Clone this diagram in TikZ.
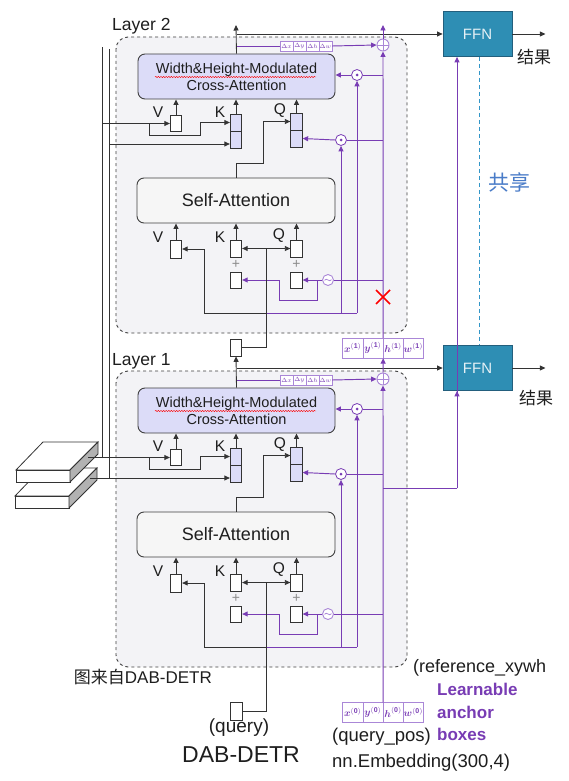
\documentclass[tikz,border=0pt]{standalone}
\usepackage{amsmath}
\usepackage{fontspec}
\setmainfont{Liberation Sans}
\newfontfamily\cjk{Noto Sans CJK SC}
\usetikzlibrary{arrows.meta,decorations.pathmorphing,calc}
\newcommand\myfs[1]{\fontsize{#1}{#1}\selectfont}
\definecolor{purp}{RGB}{120,60,180}
\definecolor{lpurp}{RGB}{170,135,215}
\definecolor{lav}{RGB}{220,220,248}
\definecolor{bgc}{RGB}{243,243,246}
\definecolor{ffnc}{RGB}{46,142,180}
\definecolor{ffnb}{RGB}{35,95,125}
\definecolor{share}{RGB}{74,124,200}
\definecolor{dashc}{RGB}{50,150,200}
\definecolor{safill}{RGB}{246,246,246}
\definecolor{ink}{RGB}{30,30,30}
\begin{document}
\begin{tikzpicture}[x=1pt,y=-1pt,
  blk/.style={draw=black!80, line width=0.85pt},
  pur/.style={draw=purp, line width=0.95pt},
  arr/.style={-{Triangle[length=5.5pt,width=5pt]}},
  laybox/.style={draw=black!75, dashed, line width=0.9pt, fill=bgc, rounded corners=12pt},
  cabox/.style={draw=black!75, fill=lav, rounded corners=7pt, minimum width=197pt, minimum height=45pt, align=center, inner sep=0pt, line width=0.9pt, text=ink, font=\fontsize{14.5}{17}\selectfont},
  sabox/.style={draw=black!75, fill=safill, rounded corners=7pt, minimum width=198pt, minimum height=45pt, inner sep=0pt, line width=0.9pt, text=ink, font=\myfs{18}},
  cell/.style={draw=black!80, fill=white, minimum width=11.5pt, minimum height=17pt, inner sep=0pt, line width=0.8pt},
  lcell/.style={cell, fill=lav},
  vkq/.style={text=ink, font=\myfs{15.5}, inner sep=0pt},
  plus/.style={text=black!45, font=\myfs{14}, inner sep=0pt},
  odot/.style={circle, draw=purp, fill=white, minimum size=11pt, inner sep=0pt, line width=0.8pt},
  lop/.style={circle, draw=lpurp, fill=white, minimum size=12pt, inner sep=0pt, line width=0.9pt},
  dcell/.style={draw=lpurp, fill=white, minimum width=13pt, minimum height=10pt, inner sep=0pt, text=purp, font=\myfs{6.3}},
  xcell/.style={draw=lpurp, fill=white, minimum width=20.2pt, minimum height=20pt, inner sep=0pt, text=purp, font=\myfs{10}},
  ffnbox/.style={fill=ffnc, draw=ffnb, line width=0.8pt, minimum width=69pt, minimum height=45pt, text=white!88!ffnc, font=\myfs{15}},
  squig/.style={draw=red, line width=0.4pt, decorate, decoration={snake, amplitude=0.7pt, segment length=2.6pt}},
  txt/.style={text=ink, inner sep=0pt}]
\useasboundingbox (0,0) rectangle (568,781);
\fill[white] (0,0) rectangle (568,781);

\foreach \l/\dy in {2/0,1/334}{
\begin{scope}[shift={(0,\dy)}]
  \draw[laybox] (116,37) rectangle (407,333);
  \node[txt, anchor=base west, font=\myfs{17.5}] (lab\l) at (112,31) {Layer \l};
  \node[cabox] (ca\l) at (236.5,76.5) {Width\&Height-Modulated\\Cross-Attention};
  \draw[squig] (155,77) -- (316,77);
  \node[sabox] (sa\l) at (236,200.5) {Self-Attention};
  % cross-attention inputs
  \node[cell, minimum height=16pt] (cv\l) at (176,123.5) {};
  \node[lcell] (ckt\l) at (236,122.5) {};
  \node[lcell] (ckb\l) at (236,139.5) {};
  \node[lcell] (cqt\l) at (296.5,121.5) {};
  \node[lcell] (cqb\l) at (296.5,138.5) {};
  \node[vkq] at (158,112) {V};
  \node[vkq] at (220,112) {K};
  \node[vkq] at (280,111) {Q};
  % self-attention inputs
  \node[cell, minimum height=18pt] (sv\l) at (176,249) {};
  \node[cell] (skt\l) at (236,248.5) {};
  \node[cell, minimum height=16pt] (skb\l) at (236,280) {};
  \node[cell] (sqt\l) at (296.5,248.5) {};
  \node[cell, minimum height=16pt] (sqb\l) at (296.5,280) {};
  \node[plus] at (236,264) {+};
  \node[plus] at (296.5,264) {+};
  \node[vkq] at (158,237) {V};
  \node[vkq] at (220,237) {K};
  \node[vkq] at (279,236) {Q};
  % operators
  \node[odot] (oa\l) at (357,75) {};
  \fill[purp] (oa\l) circle (1.5pt);
  \node[odot] (ob\l) at (341,140) {};
  \fill[purp] (ob\l) circle (1.5pt);
  \node[lop, minimum size=11pt] (sn\l) at (328,280) {};
  \draw[lpurp, line width=0.8pt] ($(sn\l)+(-3.5,0.3)$) .. controls ($(sn\l)+(-1.5,-3)$) and ($(sn\l)+(1.5,3)$) .. ($(sn\l)+(3.5,-0.3)$);
  \node[lop] (op\l) at (383,45) {};
  \draw[lpurp, line width=0.8pt] (op\l.north) -- (op\l.south) (op\l.west) -- (op\l.east);
  \foreach \vv [count=\i] in {x,y,h,w}
    \node[dcell] (d\i\l) at (273.5+13*\i,46) {$\Delta \vv$};
  \node[ffnbox] (ffn\l) at (477.5,34) {FFN};
  % black connectors
  \draw[blk,arr] (cv\l.north) -- (cv\l.north |- ca\l.south);
  \draw[blk,arr] (ckt\l.north) -- (ckt\l.north |- ca\l.south);
  \draw[blk,arr] (cqt\l.north) -- (cqt\l.north |- ca\l.south);
  \draw[blk,arr] (sv\l.north) -- (sv\l.north |- sa\l.south);
  \draw[blk,arr] (skt\l.north) -- (skt\l.north |- sa\l.south);
  \draw[blk,arr] (sqt\l.north) -- (sqt\l.north |- sa\l.south);
  \draw[blk,arr] (sa\l.north) |- (263,163) |- (cqt\l.west);
  \draw[blk,arr] (149,123.5) |- (200,135.5) |- (ckt\l.west);
  \coordinate (qj\l) at (266,248.5);
  \draw[blk,arr] (qj\l) -- (skt\l.east);
  \draw[blk,arr] (qj\l) -- (sqt\l.west);
  \coordinate (vj\l) at (266,313);
  \draw[blk,arr] (vj\l) -| (204,249) -- (sv\l.east);
  \draw[blk,arr] (ca\l.north |- ffn\l.west) -- (ffn\l.west);
  \draw[blk,arr] (ffn\l.east) -- ++(33,0);
  % purple connectors
  \draw[pur] (vj\l) -- (357,313);
  \draw[pur,arr] (341,313) -- (ob\l.south);
  \draw[pur,arr] (357,313) -- (oa\l.south);
  \draw[pur,arr] (oa\l.west) -- (oa\l.west -| ca\l.east);
  \draw[pur,arr] (ob\l.west) -- (cqb\l.east);
  \draw[pur] (oa\l.east) -- (oa\l.east -| op\l);
  \draw[pur] (ob\l.east) -- (ob\l.east -| op\l);
  \draw[pur] (sn\l.east) -- (sn\l.east -| op\l);
  \draw[pur,arr] (sn\l.west) -- (sqb\l.east);
  \draw[pur,arr] (317,280) |- (279,300) |- (skb\l.east);
  \draw[pur] (ca\l.north |- d1\l.west) -- (d1\l.west);
  \draw[pur,arr] (d4\l.east) -- (op\l.west);
\end{scope}
}

% feature-map plates
\begin{scope}[shift={(-1,26)}]
  \filldraw[fill=white, draw=black!80, line width=0.8pt] (16,470) -- (43,442) -- (98,442) -- (70,470) -- cycle;
  \filldraw[fill=white, draw=black!80, line width=0.8pt] (16,470) rectangle (70,482);
  \filldraw[fill=black!30, draw=black!80, line width=0.8pt] (70,470) -- (98,442) -- (98,454) -- (70,482) -- cycle;
\end{scope}
\filldraw[fill=white, draw=black!80, line width=0.8pt] (16,470) -- (43,442) -- (98,442) -- (70,470) -- cycle;
\filldraw[fill=white, draw=black!80, line width=0.8pt] (16,470) rectangle (70,482);
\filldraw[fill=black!30, draw=black!80, line width=0.8pt] (70,470) -- (98,442) -- (98,454) -- (70,482) -- cycle;

% memory lines
\draw[blk] (102,458) -- (102,47);
\draw[blk] (109,478) -- (109,49);
\draw[blk,arr] (88,457.5) -- (cv1.west);
\draw[blk,arr] (90,478) -- ([yshift=-4.5pt]ckb1.west);
\draw[blk,arr] (102,123.5) -- (cv2.west);
\draw[blk,arr] (109,144) -- ([yshift=-4.5pt]ckb2.west);

% query path
\draw[blk,arr] (ca2.north) -- (236,25);
\node[cell] (mid) at (236,347.5) {};
\draw[blk,arr] (ca1.north) -- (mid.south);
\draw[blk] (mid.east) -| (qj2);
\node[cell, minimum height=18pt] (qry) at (236.5,711) {};
\draw[blk] (qry.east) -| (qj1);

% anchor boxes
\foreach \vv [count=\i] in {x,y,h,w}{
  \node[xcell] (xa\i) at (332.5+20.2*\i,348) {$\boldsymbol{\vv}^{\mathbf{(1)}}$};
  \node[xcell] (xz\i) at (332.5+20.2*\i,712.5) {$\boldsymbol{\vv}^{\mathbf{(0)}}$};
}
\draw[pur,arr] (op2.north) -- (383,25);
\draw[pur,arr] (op1.north) -- (xa2.south east);
\draw[pur,arr] (xa2.north east) -- (op2.south);
\draw[pur,arr] (xz2.north east) -- (op1.south);
\draw[red, line width=1.6pt] (376,290) -- (390,304) (376,304) -- (390,290);

% FFN links
\coordinate (fin) at (457,488);
\draw[pur] (xz2.north east |- fin) -- (fin);
\draw[pur,arr] (fin) -- (fin |- ffn2.south);
\draw[pur,arr] (fin) -- (fin |- ffn1.south);
\draw[dashc, dash pattern=on 4pt off 3pt, line width=0.9pt] ([xshift=1.5pt]ffn2.south) -- ([xshift=1.5pt]ffn1.north);
\node[text=share, font=\cjk\myfs{21}, inner sep=0pt] (gx) at (509,182) {共享};
\node[txt, font=\cjk\myfs{17}] (r2) at (534,57) {结果};
\node[txt, font=\cjk\myfs{17}] (r1) at (536,398) {结果};

% bottom texts
\node[txt, anchor=east, font=\myfs{17}] (src) at (212,677) {{\cjk 图来自}DAB-DETR};
\node[txt, font=\myfs{19}] (ql) at (239,728) {(query)};
\node[txt, font=\myfs{23}] (dd) at (241,755) {DAB-DETR};
\node[txt, anchor=west, font=\myfs{18}] (rx) at (413,668) {(reference\_xywh};
\node[anchor=west, inner sep=0pt, text=purp, font=\bfseries\myfs{17}] (la1) at (437,689) {Learnable};
\node[anchor=west, inner sep=0pt, text=purp, font=\bfseries\myfs{17}] (la2) at (437,712) {anchor};
\node[anchor=west, inner sep=0pt, text=purp, font=\bfseries\myfs{17}] (la3) at (437,734) {boxes};
\node[txt, anchor=west, font=\myfs{18.5}] (qp) at (332,737) {(query\_pos)};
\node[txt, anchor=west, font=\myfs{18.5}] (ne) at (332,763) {nn.Embedding(300,4)};
\end{tikzpicture}
\end{document}
